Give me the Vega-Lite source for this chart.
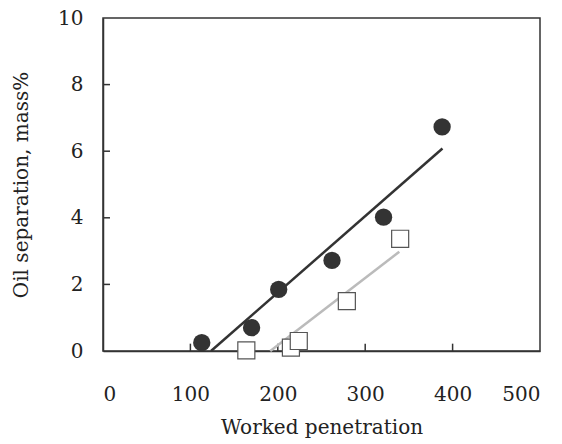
{
  "$schema": "https://vega.github.io/schema/vega-lite/v6.json",
  "autosize": {"type": "none"},
  "width": 437,
  "height": 333,
  "padding": {"left": 103, "top": 18, "right": 22, "bottom": 93},
  "background": "white",
  "config": {
    "view": {"stroke": "#333333", "strokeWidth": 1.5},
    "axis": {
      "grid": false,
      "ticks": false,
      "domainColor": "#333333",
      "domainWidth": 1.5
    }
  },
  "datasets": {
    "points": [
      {"pen": 113, "oil": 0.25, "series": "A"},
      {"pen": 170, "oil": 0.7, "series": "A"},
      {"pen": 201, "oil": 1.85, "series": "A"},
      {"pen": 262, "oil": 2.72, "series": "A"},
      {"pen": 321, "oil": 4.02, "series": "A"},
      {"pen": 388, "oil": 6.73, "series": "A"},
      {"pen": 164, "oil": 0.02, "series": "B"},
      {"pen": 215, "oil": 0.1, "series": "B"},
      {"pen": 224, "oil": 0.3, "series": "B"},
      {"pen": 279, "oil": 1.5, "series": "B"},
      {"pen": 340, "oil": 3.37, "series": "B"}
    ],
    "lineA": [
      {"pen": 123.6, "oil": 0},
      {"pen": 388.4, "oil": 6.08}
    ],
    "lineB": [
      {"pen": 191.4, "oil": 0},
      {"pen": 339, "oil": 2.98}
    ],
    "xticks": [{"pen": 100}, {"pen": 200}, {"pen": 300}, {"pen": 400}],
    "yticks": [{"oil": 2}, {"oil": 4}, {"oil": 6}, {"oil": 8}]
  },
  "layer": [
    {
      "data": {"name": "lineA"},
      "mark": {"type": "line", "color": "#333333", "strokeWidth": 2.5},
      "encoding": {
        "x": {"field": "pen", "type": "quantitative", "scale": {"domain": [0, 500]},
              "axis": {"title": "Worked penetration", "values": [0, 100, 200, 300, 400, 500],
                       "labelFont": "DejaVu Serif", "labelFontSize": 20, "labelColor": "#222222", "labelPadding": 33, "labelOverlap": false,
                       "titleFont": "DejaVu Serif", "titleFontSize": 20, "titleFontWeight": "normal", "titleColor": "#222222", "titlePadding": 13}},
        "y": {"field": "oil", "type": "quantitative", "scale": {"domain": [0, 10]},
              "axis": {"title": "Oil separation, mass%", "values": [0, 2, 4, 6, 8, 10],
                       "labelFont": "DejaVu Serif", "labelFontSize": 20, "labelColor": "#222222", "labelPadding": 20, "labelOverlap": false,
                       "titleFont": "DejaVu Serif", "titleFontSize": 20, "titleFontWeight": "normal", "titleColor": "#222222", "titlePadding": 26}}
      }
    },
    {
      "data": {"name": "xticks"},
      "mark": {"type": "rule", "color": "#333333", "strokeWidth": 1.5},
      "encoding": {
        "x": {"field": "pen", "type": "quantitative"},
        "y": {"datum": 0},
        "y2": {"datum": 0.22}
      }
    },
    {
      "data": {"name": "yticks"},
      "mark": {"type": "rule", "color": "#333333", "strokeWidth": 1.5},
      "encoding": {
        "y": {"field": "oil", "type": "quantitative"},
        "x": {"datum": 0},
        "x2": {"datum": 8}
      }
    },
    {
      "data": {"name": "lineB"},
      "mark": {"type": "line", "color": "#bbbbbb", "strokeWidth": 2.5},
      "encoding": {
        "x": {"field": "pen", "type": "quantitative"},
        "y": {"field": "oil", "type": "quantitative"}
      }
    },
    {
      "data": {"name": "points"},
      "transform": [{"filter": "datum.series === 'A'"}],
      "mark": {"type": "circle", "size": 300, "color": "#333333", "opacity": 1},
      "encoding": {
        "x": {"field": "pen", "type": "quantitative"},
        "y": {"field": "oil", "type": "quantitative"}
      }
    },
    {
      "data": {"name": "points"},
      "transform": [{"filter": "datum.series === 'B'"}],
      "mark": {"type": "square", "size": 290, "fill": "white", "stroke": "#555555", "strokeWidth": 1.2, "opacity": 1},
      "encoding": {
        "x": {"field": "pen", "type": "quantitative"},
        "y": {"field": "oil", "type": "quantitative"}
      }
    }
  ]
}
